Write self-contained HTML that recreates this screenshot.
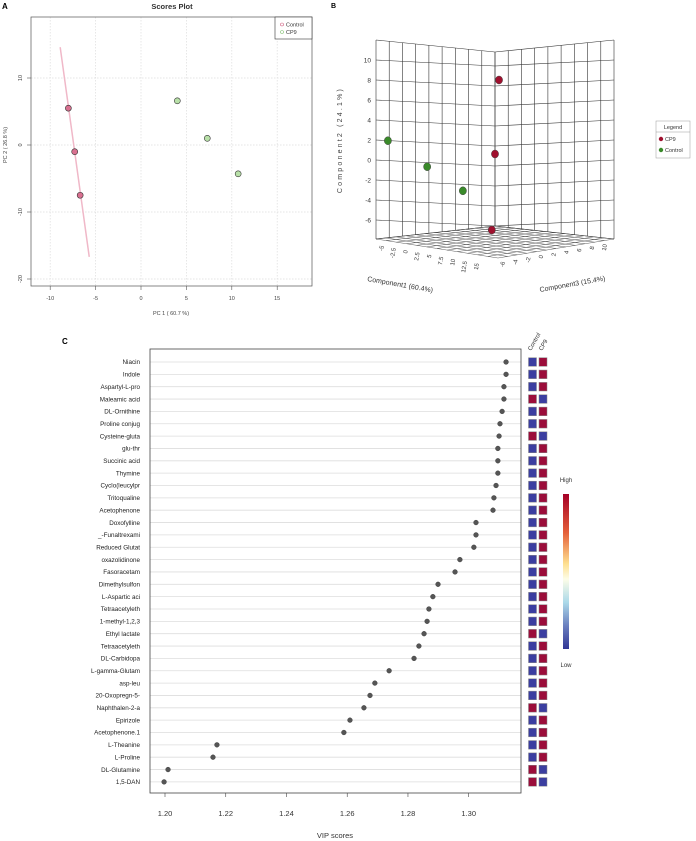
<!DOCTYPE html>
<html><head><meta charset="utf-8"><style>
html,body{margin:0;padding:0;background:#fff;}
svg{display:block;font-family:"Liberation Sans",sans-serif;}
</style></head><body>
<svg id="fig" width="696" height="841" viewBox="0 0 696 841" xmlns="http://www.w3.org/2000/svg">
<g id="panelA"></g>
<g id="panelB"></g>
<g id="panelC"></g>
</svg>
<script>
// ---------- Panel A data ----------
const controlPC1 = [-8.0, -7.3, -6.7];
const controlPC2 = [5.5, -1.0, -7.5];
const cp9PC1 = [4.0, 7.3, 10.7];
const cp9PC2 = [6.6, 1.0, -4.3];
const aXTicks = [-10, -5, 0, 5, 10, 15];
const aYTicks = [10, 0, -10, -20];
// ---------- Panel B data ----------
const bYTicks = [10, 8, 6, 4, 2, 0, -2, -4, -6];
const bComp1Ticks = ["-5","-2.5","0","2.5","5","7.5","10","12.5","15"];
const bComp3Ticks = ["-6","-4","-2","0","2","4","6","8","10"];
const bCP9Comp2 = [8, 0.6, -7];
const bCP9Depth = [0.05, 0.0, -0.04];
const bCtrlComp2 = [2.2, -0.5, -3.0];
const bCtrlSide = [-0.9, -0.57, -0.27];
// ---------- Panel C data ----------
const metabolites = ["Niacin","Indole","Aspartyl-L-pro","Maleamic acid","DL-Ornithine","Proline conjug","Cysteine-gluta","glu-thr","Succinic acid","Thymine","Cyclo(leucylpr","Tritoqualine","Acetophenone","Doxofylline","_-Funaltrexami","Reduced Glutat","oxazolidinone","Fasoracetam","Dimethylsulfon","L-Aspartic aci","Tetraacetyleth","1-methyl-1,2,3","Ethyl lactate","Tetraacetyleth","DL-Carbidopa","L-gamma-Glutam","asp-leu","20-Oxopregn-5-","Naphthalen-2-a","Epirizole","Acetophenone.1","L-Theanine","L-Proline","DL-Glutamine","1,5-DAN"];
const vipScores = [1.3123,1.3123,1.3116,1.3116,1.3110,1.3103,1.3100,1.3096,1.3096,1.3096,1.3090,1.3083,1.3080,1.3024,1.3024,1.3017,1.2971,1.2955,1.2899,1.2882,1.2869,1.2863,1.2853,1.2836,1.2820,1.2738,1.2691,1.2675,1.2655,1.2609,1.2589,1.2171,1.2158,1.2010,1.1997];
// 1 = control high (red) / CP9 low (blue)
const controlHigh = [0,0,0,1,0,0,1,0,0,0,0,0,0,0,0,0,0,0,0,0,0,0,1,0,0,0,0,0,1,0,0,0,0,1,1];
const vipTicks = [1.20,1.22,1.24,1.26,1.28,1.30];

const NS="http://www.w3.org/2000/svg";
function mk(parent,tag,attrs,text){const e=document.createElementNS(NS,tag);for(const k in attrs)e.setAttribute(k,attrs[k]);if(text!==undefined)e.textContent=text;parent.appendChild(e);return e;}

// ===== Panel A =====
(function(){
const g=document.getElementById('panelA');
const ax=v=>141+v*9.08, ay=v=>145-v*6.7;
let t=mk(g,'text',{x:2,y:9,'font-size':8,'font-weight':'bold'},'A');


t=mk(g,'text',{x:172,y:9,'font-size':7.5,'font-weight':'bold','text-anchor':'middle',fill:'#333'},'Scores Plot');


aXTicks.forEach(v=>{
 let l=mk(g,'line',{x1:ax(v),x2:ax(v),y1:17,y2:286,stroke:'#ddd','stroke-width':0.7,'stroke-dasharray':'1.5,1.5'});
 
 
 mk(g,'line',{x1:ax(v),x2:ax(v),y1:286,y2:290,stroke:'#555','stroke-width':0.6});
 let tx=mk(g,'text',{x:ax(v),y:300,'font-size':5.5,'text-anchor':'middle',fill:'#444'},String(v));
 
 
});
aYTicks.forEach(v=>{
 let l=mk(g,'line',{x1:31,x2:312,y1:ay(v),y2:ay(v),stroke:'#ddd','stroke-width':0.7,'stroke-dasharray':'1.5,1.5'});
 
 
 mk(g,'line',{x1:27,x2:31,y1:ay(v),y2:ay(v),stroke:'#555','stroke-width':0.6});
 let tx=mk(g,'text',{x:22,y:ay(v),'font-size':5.5,'text-anchor':'middle',fill:'#444',transform:`rotate(-90 22 ${ay(v)})`},String(v));
 
 
});
let box=mk(g,'rect',{x:31,y:17,width:281,height:269,fill:'none',stroke:'#555','stroke-width':0.7});


t=mk(g,'text',{x:7,y:145,'font-size':5.5,'text-anchor':'middle',fill:'#444',transform:'rotate(-90 7 145)'},'PC 2 ( 26.8 %)');


t=mk(g,'text',{x:171,y:315,'font-size':5.5,'text-anchor':'middle',fill:'#444'},'PC 1 ( 60.7 %)');


const ex1=ax(-8.9),ey1=ay(14.6),ex2=ax(-5.7),ey2=ay(-16.7);
let el=mk(g,'line',{x1:ex1,y1:ey1,x2:ex2,y2:ey2,stroke:'#f0b8c8','stroke-width':1.5});


controlPC1.forEach((v,i)=>{
 let c=mk(g,'circle',{cx:ax(v),cy:ay(controlPC2[i]),r:3,fill:'#d97090',stroke:'#333','stroke-width':0.6});
 
 
});
cp9PC1.forEach((v,i)=>{
 let c=mk(g,'circle',{cx:ax(v),cy:ay(cp9PC2[i]),r:3,fill:'#b8e0a8',stroke:'#333','stroke-width':0.6});
 
 
});
let lg=mk(g,'g',{});


mk(lg,'rect',{x:275,y:17,width:37,height:22,fill:'#fff',stroke:'#333','stroke-width':0.6});
mk(lg,'circle',{cx:282,cy:24.5,r:1.5,fill:'none',stroke:'#d06080','stroke-width':0.6});
mk(lg,'text',{x:286,y:26.5,'font-size':5.5,fill:'#333'},'Control');
mk(lg,'circle',{cx:282,cy:32,r:1.5,fill:'none',stroke:'#80c070','stroke-width':0.6});
mk(lg,'text',{x:286,y:34,'font-size':5.5,fill:'#333'},'CP9');
})();

// ===== Panel B =====
(function(){
const g=document.getElementById('panelB');
let t=mk(g,'text',{x:331,y:8,'font-size':7,'font-weight':'bold'},'B');


const L=376,C=495,R=614;
const by=v=>160-v*10;
const drop=4;
const grid=mk(g,'g',{stroke:'#333','stroke-width':0.6,fill:'none'});


const TOP=12, BOT=-7.9;
const hl=[TOP,10,8,6,4,2,0,-2,-4,-6,BOT];
hl.forEach(v=>{
 const off=(v===TOP?12:(v===BOT?-13:drop*1.5));
 mk(grid,'line',{x1:L,y1:by(v),x2:C,y2:by(v)+off});
 mk(grid,'line',{x1:C,y1:by(v)+off,x2:R,y2:by(v)});
});
for(let i=0;i<=9;i++){
 const f=i/9;
 const xl=L+(C-L)*f;
 mk(grid,'line',{x1:xl,y1:by(TOP)+12*f,x2:xl,y2:by(BOT)-13*f});
 const xr=C+(R-C)*f;
 mk(grid,'line',{x1:xr,y1:by(TOP)+12*(1-f),x2:xr,y2:by(BOT)-13*(1-f)});
}
const fl={x:L,y:by(BOT)}, fb={x:C,y:by(BOT)-13}, fr={x:R,y:by(BOT)}, ff={x:498,y:258};
for(let i=0;i<=12;i++){
 const f=i/12;
 mk(grid,'line',{x1:fl.x+(fb.x-fl.x)*f,y1:fl.y+(fb.y-fl.y)*f,x2:ff.x+(fr.x-ff.x)*f,y2:ff.y+(fr.y-ff.y)*f,'stroke-width':0.4});
 mk(grid,'line',{x1:fb.x+(fr.x-fb.x)*f,y1:fb.y+(fr.y-fb.y)*f,x2:fl.x+(ff.x-fl.x)*f,y2:fl.y+(ff.y-fl.y)*f,'stroke-width':0.4});
}
bYTicks.forEach(v=>{
 let tx=mk(g,'text',{x:371,y:by(v)+2.5,'font-size':6.5,'text-anchor':'end',fill:'#333'},String(v));
 
 
});
t=mk(g,'text',{x:342,y:140,'font-size':7,'text-anchor':'middle',fill:'#444','letter-spacing':'2.2',transform:'rotate(-90 342 140)'},'Component2 (24.1%)');


bComp1Ticks.forEach((s,i)=>{
 const x=384+i*(95/8), y=246+i*2.2;
 let tx=mk(g,'text',{x:x,y:y,'font-size':6,'text-anchor':'end',fill:'#333',transform:`rotate(-80 ${x} ${y})`},s);
 
 
});
bComp3Ticks.forEach((s,i)=>{
 const x=505+i*(102/8), y=262-i*2.2;
 let tx=mk(g,'text',{x:x,y:y,'font-size':6,'text-anchor':'end',fill:'#333',transform:`rotate(-80 ${x} ${y})`},s);
 
 
});
t=mk(g,'text',{x:367,y:281,'font-size':7,fill:'#333',transform:'rotate(10 367 281)'},'Component1 (60.4%)');


t=mk(g,'text',{x:540,y:292,'font-size':7,fill:'#333',transform:'rotate(-10 540 292)'},'Component3 (15.4%)');


bCP9Comp2.forEach((v,i)=>{
 let c=mk(g,'ellipse',{cx:C+bCP9Depth[i]*80,cy:by(v),rx:3.6,ry:4,fill:'#a0102e',stroke:'#444','stroke-width':0.5});
 
 
});
bCtrlComp2.forEach((v,i)=>{
 let c=mk(g,'ellipse',{cx:C+bCtrlSide[i]*119,cy:by(v)+bCtrlSide[i]*-3,rx:3.6,ry:4,fill:'#3a8a2a',stroke:'#444','stroke-width':0.5});
 
 
});
let lg=mk(g,'g',{});


mk(lg,'rect',{x:656,y:121,width:34,height:37,fill:'#fff',stroke:'#999','stroke-width':0.5});
mk(lg,'line',{x1:656,y1:132,x2:690,y2:132,stroke:'#999','stroke-width':0.5});
mk(lg,'text',{x:673,y:129,'font-size':5.5,'text-anchor':'middle',fill:'#333'},'Legend');
mk(lg,'circle',{cx:661,cy:139,r:2.2,fill:'#a0102e'});
mk(lg,'text',{x:665,y:141,'font-size':5.5,fill:'#333'},'CP9');
mk(lg,'circle',{cx:661,cy:150,r:2.2,fill:'#3a8a2a'});
mk(lg,'text',{x:665,y:152,'font-size':5.5,fill:'#333'},'Control');
})();

// ===== Panel C =====
(function(){
const g=document.getElementById('panelC');
const cx=v=>165+(v-1.20)*3037;
const ry=i=>362+i*12.35;
let t=mk(g,'text',{x:62,y:344,'font-size':8,'font-weight':'bold'},'C');


metabolites.forEach((m,i)=>{
 let l=mk(g,'line',{x1:150,x2:521,y1:ry(i),y2:ry(i),stroke:'#ddd','stroke-width':0.8});
 
 
 let tx=mk(g,'text',{x:140,y:ry(i)+2.2,'font-size':6.3,'text-anchor':'end',fill:'#222'},m);
 
 
 let d=mk(g,'circle',{cx:cx(vipScores[i]),cy:ry(i),r:2.4,fill:'#555',stroke:'#333','stroke-width':0.4});
 
 
 const hi=controlHigh[i];
 let a=mk(g,'rect',{x:528.5,y:ry(i)-4.3,width:8,height:8.6,fill:hi?'#9b0d3a':'#3b3ea0',stroke:'#888','stroke-width':0.5});
 
 
 let b=mk(g,'rect',{x:539,y:ry(i)-4.3,width:8,height:8.6,fill:hi?'#3b3ea0':'#9b0d3a',stroke:'#888','stroke-width':0.5});
 
 
});
let box=mk(g,'rect',{x:150,y:349,width:371,height:444,fill:'none',stroke:'#444','stroke-width':0.8});


vipTicks.forEach(v=>{
 mk(g,'line',{x1:cx(v),x2:cx(v),y1:793,y2:797,stroke:'#444','stroke-width':0.6});
 let tx=mk(g,'text',{x:cx(v),y:816,'font-size':7.5,'text-anchor':'middle',fill:'#333'},v.toFixed(2));
 
 
});
t=mk(g,'text',{x:335,y:838,'font-size':7.5,'text-anchor':'middle',fill:'#333'},'VIP scores');


t=mk(g,'text',{x:531,y:351,'font-size':6,fill:'#333',transform:'rotate(-60 531 351)'},'Control');


t=mk(g,'text',{x:542,y:351,'font-size':6,fill:'#333',transform:'rotate(-60 542 351)'},'CP9');


const defs=mk(g,'defs',{});
const gr=mk(defs,'linearGradient',{id:'cs',x1:0,y1:0,x2:0,y2:1});
[['0','#a50026'],['0.25','#e5603a'],['0.45','#fee090'],['0.55','#fdfde8'],['0.7','#abd9e9'],['0.85','#6a7fbf'],['1','#313695']].forEach(s=>mk(gr,'stop',{offset:s[0],'stop-color':s[1]}));
let cb=mk(g,'rect',{x:563,y:494,width:6,height:155,fill:'url(#cs)'});


t=mk(g,'text',{x:566,y:482,'font-size':6,'text-anchor':'middle',fill:'#333'},'High');


t=mk(g,'text',{x:566,y:667,'font-size':6,'text-anchor':'middle',fill:'#333'},'Low');


})();
</script>
</body></html>
